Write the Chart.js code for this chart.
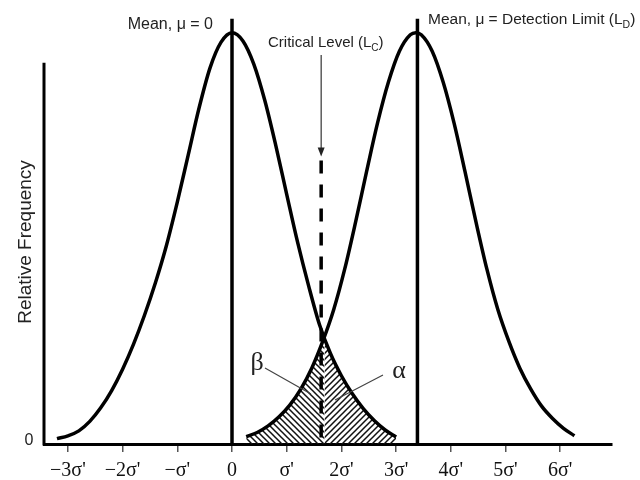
<!DOCTYPE html>
<html>
<head>
<meta charset="utf-8">
<script src="https://cdn.jsdelivr.net/npm/chart.js@4.4.1/dist/chart.umd.min.js"></script>
<style>
  body { margin: 0; background: #fff; }
  #wrap { width: 640px; height: 480px; }
</style>
</head>
<body>
<div id="wrap"><canvas id="myChart" width="640" height="480"></canvas></div>
<script>
// x is in units of sigma'
const tickValues = [-3, -2, -1, 0, 1, 2, 3, 4, 5, 6];
const tickLabels = ['\u22123\u03c3\'', '\u22122\u03c3\'', '\u2212\u03c3\'', '0', '\u03c3\'', '2\u03c3\'', '3\u03c3\'', '4\u03c3\'', '5\u03c3\'', '6\u03c3\''];

// blank distribution, mean 0
const blankX = [-3.2, -3.0, -2.8, -2.6, -2.4, -2.2, -2.0, -1.8, -1.6, -1.4, -1.2, -1.0, -0.8, -0.6, -0.4, -0.2,
  0, 0.2, 0.4, 0.6, 0.8, 1.0, 1.2, 1.4, 1.6, 1.8, 2.0, 2.2, 2.4, 2.6, 2.8, 3.0];
const blankY = [0.013, 0.020, 0.032, 0.055, 0.088, 0.130, 0.182, 0.243, 0.313, 0.392, 0.482, 0.588, 0.703, 0.818, 0.915, 0.977,
  1.0, 0.980, 0.923, 0.835, 0.726, 0.607, 0.490, 0.385, 0.290, 0.220, 0.166, 0.122, 0.086, 0.057, 0.034, 0.017];

// distribution with mean at the detection limit
const detectX = [0.26, 0.46, 0.66, 0.86, 1.06, 1.26, 1.46, 1.66, 1.86, 2.06, 2.26, 2.46, 2.66, 2.86, 3.06, 3.26,
  3.36, 3.46, 3.66, 3.86, 4.06, 4.26, 4.46, 4.66, 4.86, 5.06, 5.26, 5.46, 5.66, 5.86, 6.06, 6.26];
const detectY = [0.018, 0.028, 0.044, 0.066, 0.095, 0.134, 0.185, 0.250, 0.327, 0.425, 0.540, 0.662, 0.780, 0.880, 0.955, 0.995,
  1.0, 0.995, 0.955, 0.880, 0.780, 0.662, 0.540, 0.425, 0.327, 0.250, 0.185, 0.134, 0.092, 0.062, 0.038, 0.020];

const meanBlank = 0;
const meanDetect = 3.39;
const criticalLevel = 1.63;
const crossX = 1.69;
const crossY = 0.258;
const meanLineTop = 1.034;
const dashTop = 0.689;
const yAxisTop = 0.927;

const sans = "'Liberation Sans', Arial, sans-serif";
const serif = "'Liberation Serif', 'Times New Roman', serif";

function hatch(dir) {
  const s = 6;
  const c = document.createElement('canvas');
  c.width = s; c.height = s;
  const g = c.getContext('2d');
  g.strokeStyle = '#111';
  g.lineWidth = 1.5;
  g.beginPath();
  if (dir === '\\') {
    g.moveTo(-1, -1); g.lineTo(s + 1, s + 1);
    g.moveTo(-1, s - 1); g.lineTo(1, s + 1);
    g.moveTo(s - 1, -1); g.lineTo(s + 1, 1);
  } else {
    g.moveTo(-1, s + 1); g.lineTo(s + 1, -1);
    g.moveTo(-1, 1); g.lineTo(1, -1);
    g.moveTo(s - 1, s + 1); g.lineTo(s + 1, s - 1);
  }
  g.stroke();
  return g.createPattern(c, 'repeat');
}

const pts = (xs, ys) => xs.map((x, i) => ({ x: x, y: ys[i] }));
const blankPts = pts(blankX, blankY);
const detectPts = pts(detectX, detectY);
const betaPts = detectPts.filter(p => p.x < crossX).concat([{ x: crossX, y: crossY }]);
const alphaPts = [{ x: crossX, y: crossY }].concat(blankPts.filter(p => p.x > crossX));

const curve = { borderColor: '#000', borderWidth: 3.5, pointRadius: 0, cubicInterpolationMode: 'monotone', fill: false };
const vline = { borderColor: '#000', borderWidth: 3.5, pointRadius: 0, tension: 0, fill: false };

// parts: [text, isSubscript, fontSize]
function subText(ctx, parts, x, y, align) {
  let w = 0;
  parts.forEach(p => { ctx.font = p[2] + 'px ' + sans; w += ctx.measureText(p[0]).width; });
  let cx = align === 'right' ? x - w : x;
  ctx.textAlign = 'left';
  ctx.textBaseline = 'middle';
  parts.forEach(p => {
    ctx.font = p[2] + 'px ' + sans;
    ctx.fillText(p[0], cx, p[1] ? y + 5 : y);
    cx += ctx.measureText(p[0]).width;
  });
}

const annotations = {
  id: 'annotations',
  afterDatasetsDraw(chart) {
    const ctx = chart.ctx;
    const xs = chart.scales.x, ys = chart.scales.y;
    const area = chart.chartArea;
    ctx.save();
    // y axis line
    ctx.strokeStyle = '#000';
    ctx.lineWidth = 3;
    ctx.beginPath();
    ctx.moveTo(area.left, ys.getPixelForValue(yAxisTop));
    ctx.lineTo(area.left, area.bottom + 1.5);
    ctx.stroke();

    ctx.fillStyle = '#222';
    ctx.font = '16px ' + sans;
    ctx.textAlign = 'center';
    ctx.textBaseline = 'middle';
    ctx.fillText('0', 29, ys.getPixelForValue(0) - 3);

    ctx.save();
    ctx.translate(26, 242);
    ctx.rotate(-Math.PI / 2);
    ctx.font = '19px ' + sans;
    ctx.fillText('Relative Frequency', 0, 0);
    ctx.restore();

    // labels
    subText(ctx, [['Mean, \u03bc = 0', false, 16]], 213, 25, 'right');
    subText(ctx, [['Mean, \u03bc = Detection Limit (L', false, 15.5], ['D', true, 10.5], [')', false, 15.5]], 428, 20, 'left');
    subText(ctx, [['Critical Level (L', false, 15], ['C', true, 10], [')', false, 15]], 268, 43, 'left');

    // arrow from critical level label
    const lx = xs.getPixelForValue(criticalLevel);
    const arrowEnd = ys.getPixelForValue(dashTop) - 4;
    ctx.strokeStyle = '#333';
    ctx.lineWidth = 1.2;
    ctx.beginPath();
    ctx.moveTo(lx, 55);
    ctx.lineTo(lx, arrowEnd - 6);
    ctx.stroke();
    ctx.fillStyle = '#222';
    ctx.beginPath();
    ctx.moveTo(lx - 3.5, arrowEnd - 9);
    ctx.lineTo(lx + 3.5, arrowEnd - 9);
    ctx.lineTo(lx, arrowEnd);
    ctx.closePath();
    ctx.fill();

    // beta / alpha
    ctx.fillStyle = '#222';
    ctx.font = '26px ' + serif;
    ctx.textAlign = 'center';
    ctx.textBaseline = 'middle';
    ctx.fillText('\u03b2', 257, 363);
    ctx.fillText('\u03b1', 399, 371);
    ctx.strokeStyle = '#444';
    ctx.lineWidth = 1.2;
    ctx.beginPath();
    ctx.moveTo(265, 368); ctx.lineTo(311, 394);
    ctx.moveTo(383, 375); ctx.lineTo(335, 400);
    ctx.stroke();
    ctx.restore();
  }
};

new Chart(document.getElementById('myChart'), {
  type: 'line',
  data: {
    datasets: [
      Object.assign({ data: blankPts }, curve),
      Object.assign({ data: detectPts }, curve),
      Object.assign({ data: [{ x: meanBlank, y: 0 }, { x: meanBlank, y: meanLineTop }] }, vline),
      Object.assign({ data: [{ x: meanDetect, y: 0 }, { x: meanDetect, y: meanLineTop }] }, vline),
      Object.assign({ data: [{ x: criticalLevel, y: dashTop }, { x: criticalLevel, y: 0 }], borderDash: [13, 11] }, vline),
      { data: betaPts, borderWidth: 0, pointRadius: 0, cubicInterpolationMode: 'monotone', fill: 'origin', backgroundColor: hatch('\\') },
      { data: alphaPts, borderWidth: 0, pointRadius: 0, cubicInterpolationMode: 'monotone', fill: 'origin', backgroundColor: hatch('/') }
    ]
  },
  options: {
    responsive: false,
    animation: false,
    layout: { padding: { left: 44, right: 28, top: 8, bottom: 0 } },
    plugins: { legend: { display: false }, tooltip: { enabled: false } },
    scales: {
      x: {
        type: 'linear',
        min: -3.437,
        max: 6.947,
        afterBuildTicks: s => { s.ticks = tickValues.map(v => ({ value: v })); },
        afterFit: s => { s.height = 36; },
        ticks: {
          callback: (v, i) => tickLabels[i],
          color: '#111',
          font: { family: serif, size: 20 },
          padding: 7,
          maxRotation: 0,
          autoSkip: false
        },
        grid: { drawOnChartArea: false, drawTicks: true, tickLength: 8, color: '#555', lineWidth: 1.5 },
        border: { display: true, color: '#000', width: 3 }
      },
      y: {
        display: false,
        min: 0,
        max: 1.06
      }
    }
  },
  plugins: [annotations]
});
</script>
</body>
</html>
